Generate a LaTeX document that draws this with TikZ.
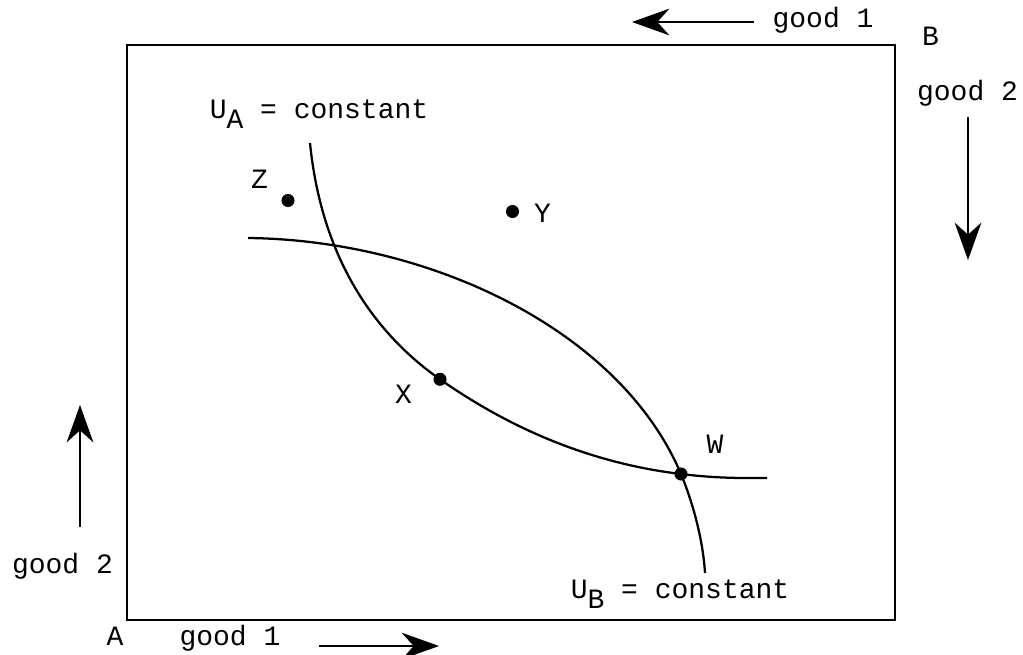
\documentclass[tikz,border=0pt]{standalone}
\usepackage{fontspec}
\setmonofont{Liberation Mono}
\usetikzlibrary{arrows.meta}
\begin{document}
\begin{tikzpicture}[x=0.75pt,y=-0.75pt,
  lbl/.style={font=\ttfamily\fontsize{21}{25}\selectfont, inner sep=0pt, anchor=base},
  dot/.style={circle, fill=black, inner sep=0pt, minimum size=9.8pt},
  curve/.style={line width=1.7pt},
  axarrow/.style={line width=1.6pt, -{Stealth[length=28pt,width=20pt,inset=9pt]}},
  boxline/.style={line width=1.7pt}]
\useasboundingbox (0,0) rectangle (1023,654);
% Edgeworth box
\draw[boxline] (127,45) rectangle (895,620);
% indifference curves
\coordinate (Wp) at (681,474);
\coordinate (Xp) at (440,379.3);
\draw[curve] (310,143) .. controls (321,253) and (370,330.3) .. (Xp)
  .. controls (520,435.3) and (601,464.4) .. (Wp)
  .. controls (720,478.7) and (745,478) .. (767,478);
\draw[curve] (248,238) .. controls (430,240) and (620,330) .. (Wp)
  .. controls (693,503) and (703,540) .. (705,573);
% points
\node[dot] (Z) at (288,200.5) {};
\node[dot] (Y) at (512.5,211.5) {};
\node[dot] (X) at (Xp) {};
\node[dot] (W) at (Wp) {};
\node[lbl] (Zl) at (259.5,188) {Z};
\node[lbl] (Yl) at (542.5,222) {Y};
\node[lbl] (Xl) at (403.5,403) {X};
\node[lbl] (Wl) at (715,453) {W};
\node[lbl] (UA) at (319,118) {U\raisebox{-0.37em}{A} = constant};
\node[lbl] (UB) at (680,598) {U\raisebox{-0.37em}{B} = constant};
% origins and axis labels
\node[lbl] (A) at (115,645) {A};
\node[lbl] (B) at (930.5,45) {B};
\node[lbl] (g1A) at (230,645) {good 1};
\node[lbl] (g2A) at (62.5,573) {good 2};
\node[lbl] (g1B) at (823,27) {good 1};
\node[lbl] (g2B) at (967.5,100) {good 2};
% direction arrows
\coordinate (a1s) at (319,646); \coordinate (a1e) at (439,646);
\coordinate (a2s) at (80,527);  \coordinate (a2e) at (80,405);
\coordinate (b1s) at (754,22);  \coordinate (b1e) at (632,22);
\coordinate (b2s) at (968,117); \coordinate (b2e) at (968,260);
\draw[axarrow] (a1s) -- (a1e);
\draw[axarrow] (a2s) -- (a2e);
\draw[axarrow] (b1s) -- (b1e);
\draw[axarrow] (b2s) -- (b2e);
\end{tikzpicture}
\end{document}
